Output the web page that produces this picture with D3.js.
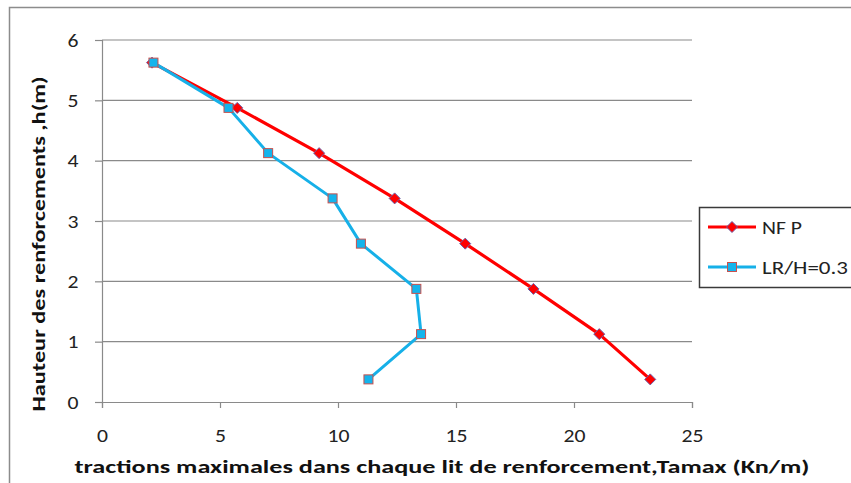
<!DOCTYPE html>
<html><head><meta charset="utf-8">
<script src="https://cdn.jsdelivr.net/npm/d3@7"></script>
<style>body{margin:0;background:#fff}svg{display:block}</style>
</head><body>
<svg id="c" width="851" height="483"></svg>
<script>
const heights = [5.625, 4.875, 4.125, 3.375, 2.625, 1.875, 1.125, 0.375];
const nfpValues = [2.12, 5.73, 9.20, 12.40, 15.39, 18.28, 21.07, 23.23];
const lrhValues = [2.18, 5.36, 7.04, 9.77, 10.97, 13.32, 13.52, 11.29];
const xTicks = [0, 5, 10, 15, 20, 25];
const yTicks = [0, 1, 2, 3, 4, 5, 6];
const seriesNames = ["NF P", "LR/H=0.3"];
const xTitle = "tractions maximales dans chaque lit de renforcement,Tamax (Kn/m)";
const yTitle = "Hauteur des renforcements ,h(m)";

const svg = d3.select("#c");
const font = "Carlito, Calibri, 'Liberation Sans', Arial, sans-serif";
const x = d3.scaleLinear().domain([0, 25]).range([102, 692]);
const y = d3.scaleLinear().domain([0, 6]).range([402, 40]);

// outer chart border
svg.append("rect").attr("x", 9.5).attr("y", 7.5).attr("width", 900).attr("height", 600)
  .attr("fill", "none").attr("stroke", "#8c8c8c").attr("stroke-width", 1.5);

// gridlines
svg.append("g").selectAll("line").data(yTicks.filter(d => d > 0)).join("line")
  .attr("x1", x(0)).attr("x2", x(25)).attr("y1", d => y(d)).attr("y2", d => y(d))
  .attr("stroke", "#8a8a8a").attr("stroke-width", 1.2);

// axes
const yAxis = svg.append("g").attr("transform", `translate(${x(0)},0)`)
  .call(d3.axisLeft(y).tickValues(yTicks).tickSize(7).tickPadding(20).tickFormat(d3.format("d")));
const xAxis = svg.append("g").attr("transform", `translate(0,${y(0)})`)
  .call(d3.axisBottom(x).tickValues(xTicks).tickSize(6).tickPadding(21).tickFormat(d3.format("d")));
[yAxis, xAxis].forEach(a => {
  a.select(".domain").attr("stroke", "#8a8a8a").attr("stroke-width", 1.2);
  a.selectAll(".tick line").attr("stroke", "#8a8a8a").attr("stroke-width", 1.2);
  a.selectAll(".tick text").attr("fill", "#222").style("font-family", font).style("font-size", "19px")
    .attr("textLength", d => String(d).length * 11).attr("lengthAdjust", "spacingAndGlyphs");
});
yAxis.selectAll(".tick text").attr("text-anchor", "middle").attr("x", -29);

// lines
const lineGen = vals => d3.line().x((d, i) => x(vals[i])).y(d => y(d))(heights);
svg.append("path").attr("d", lineGen(nfpValues)).attr("fill", "none")
  .attr("stroke", "#ff0000").attr("stroke-width", 3.2).attr("stroke-linejoin", "round");
svg.append("path").attr("d", lineGen(lrhValues)).attr("fill", "none")
  .attr("stroke", "#16b0e8").attr("stroke-width", 3).attr("stroke-linejoin", "round");

const diamond = (g, cx, cy) => g.append("path")
  .attr("d", `M${cx},${cy-5.5}L${cx+5.5},${cy}L${cx},${cy+5.5}L${cx-5.5},${cy}Z`)
  .attr("fill", "#ff0000").attr("stroke", "#6a5fa8").attr("stroke-width", 1);
const square = (g, cx, cy) => g.append("rect")
  .attr("x", cx - 4.5).attr("y", cy - 4.5).attr("width", 9).attr("height", 9)
  .attr("fill", "#14b4ec").attr("stroke", "#c8504d").attr("stroke-width", 1);

const mg = svg.append("g");
heights.forEach((h, i) => diamond(mg, x(nfpValues[i]), y(h)));
heights.forEach((h, i) => square(mg, x(lrhValues[i]), y(h)));

// legend
const lg = svg.append("g");
lg.append("rect").attr("x", 699.5).attr("y", 207.5).attr("width", 200).attr("height", 80)
  .attr("fill", "#fff").attr("stroke", "#3a3a3a").attr("stroke-width", 1.5);
lg.append("line").attr("x1", 708).attr("x2", 756).attr("y1", 227).attr("y2", 227)
  .attr("stroke", "#ff0000").attr("stroke-width", 3.2);
diamond(lg, 732, 227);
lg.append("line").attr("x1", 708).attr("x2", 756).attr("y1", 267).attr("y2", 267)
  .attr("stroke", "#16b0e8").attr("stroke-width", 3);
square(lg, 732, 267);
const legendWidths = [40, 86];
lg.selectAll("text").data(seriesNames).join("text")
  .attr("x", 762).attr("y", (d, i) => 233.5 + i * 40).text(d => d)
  .attr("textLength", (d, i) => legendWidths[i]).attr("lengthAdjust", "spacingAndGlyphs")
  .style("font-family", font).style("font-size", "19px").attr("fill", "#222");

// titles
svg.append("text").attr("x", 442).attr("y", 473).attr("text-anchor", "middle")
  .attr("textLength", 735).attr("lengthAdjust", "spacingAndGlyphs")
  .style("font-family", font).style("font-size", "19px").style("font-weight", "bold")
  .attr("fill", "#111").text(xTitle);
svg.append("text").attr("transform", "translate(45,244) rotate(-90)").attr("text-anchor", "middle")
  .attr("textLength", 335).attr("lengthAdjust", "spacingAndGlyphs")
  .style("font-family", font).style("font-size", "19px").style("font-weight", "bold")
  .attr("fill", "#111").text(yTitle);
</script>
</body></html>
